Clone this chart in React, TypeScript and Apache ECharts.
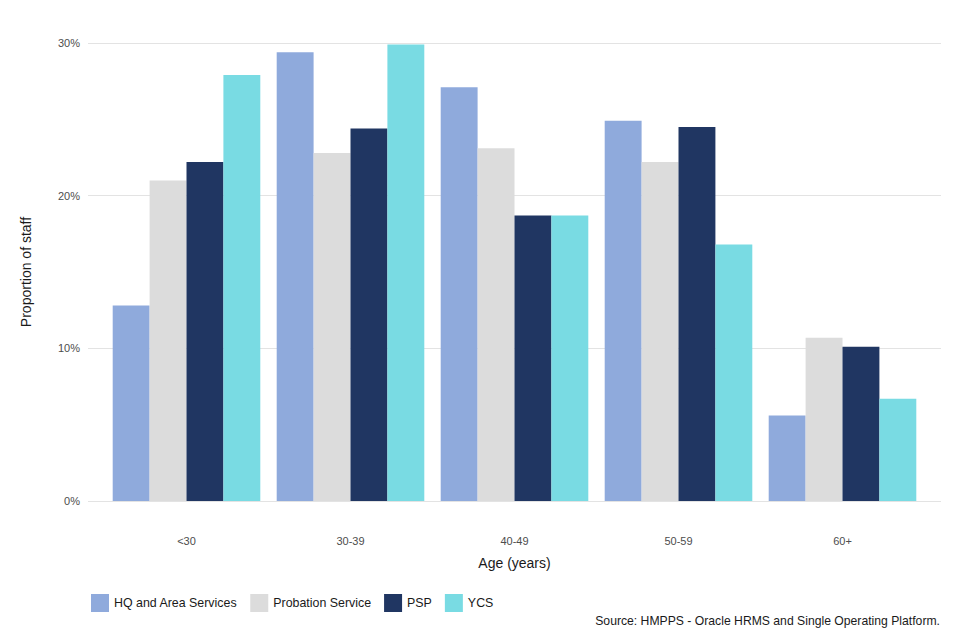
import React, { useEffect, useRef } from "react";
import * as echarts from "echarts";

const categories = ["<30", "30-39", "40-49", "50-59", "60+"];
const seriesNames = ["HQ and Area Services", "Probation Service", "PSP", "YCS"];
const hqValues = [12.8, 29.4, 27.1, 24.9, 5.6];
const probationValues = [21.0, 22.8, 23.1, 22.2, 10.7];
const pspValues = [22.2, 24.4, 18.7, 24.5, 10.1];
const ycsValues = [27.9, 29.9, 18.7, 16.8, 6.7];
const yTicks = [0, 10, 20, 30];
const colors = ["#8faadc", "#dcdcdc", "#203662", "#79dbe3"];

const FONT = "Liberation Sans, Arial, Helvetica, sans-serif";

export default function App() {
  const ref = useRef<HTMLDivElement>(null);
  useEffect(() => {
    if (!ref.current) return;
    const chart = echarts.init(ref.current, undefined, { renderer: "svg" });
    const allValues = [hqValues, probationValues, pspValues, ycsValues];
    chart.setOption({
      animation: false,
      backgroundColor: "#ffffff",
      textStyle: { fontFamily: FONT },
      grid: [
        { left: 88, right: 19, top: 43, bottom: 139 },
        { left: 104.5, width: 820, top: 43, bottom: 139 },
      ],
      xAxis: [
        { gridIndex: 0, type: "value", show: false, min: 0, max: 1 },
        {
          gridIndex: 1,
          type: "category",
          data: categories,
          axisLine: { show: false },
          axisTick: { show: false },
          axisLabel: { margin: 34, color: "#4d4d4d", fontSize: 11, fontFamily: FONT },
          name: "Age (years)",
          nameLocation: "middle",
          nameGap: 55,
          nameTextStyle: { fontSize: 14, color: "#1a1a1a", fontFamily: FONT },
        },
      ],
      yAxis: [
        {
          gridIndex: 0,
          type: "value",
          min: yTicks[0],
          max: yTicks[yTicks.length - 1],
          interval: 10,
          axisLine: { show: false },
          axisTick: { show: false },
          axisLabel: {
            margin: 8,
            color: "#4d4d4d",
            fontSize: 11,
            fontFamily: FONT,
            formatter: (v: number) => `${v}%`,
          },
          splitLine: { lineStyle: { color: "#e3e3e3", width: 1 } },
          name: "Proportion of staff",
          nameLocation: "middle",
          nameGap: 55,
          nameTextStyle: { fontSize: 14, color: "#1a1a1a", fontFamily: FONT },
        },
        {
          gridIndex: 1,
          type: "value",
          min: yTicks[0],
          max: yTicks[yTicks.length - 1],
          interval: 10,
          show: false,
          splitLine: { show: false },
        },
      ],
      legend: {
        data: seriesNames,
        left: 86,
        top: 589,
        icon: "rect",
        itemWidth: 18,
        itemHeight: 18,
        itemGap: 13,
        textStyle: { fontSize: 12.4, color: "#1a1a1a", fontFamily: FONT },
      },
      graphic: [
        {
          type: "text",
          right: 20,
          top: 615,
          style: {
            text: "Source: HMPPS - Oracle HRMS and Single Operating Platform.",
            fontSize: 12.2,
            fill: "#1a1a1a",
            fontFamily: FONT,
          },
        },
      ],
      series: seriesNames.map((name, i) => ({
        name,
        type: "bar",
        xAxisIndex: 1,
        yAxisIndex: 1,
        data: allValues[i],
        itemStyle: { color: colors[i] },
        barGap: "0%",
        barCategoryGap: "10%",
      })),
    });
    return () => chart.dispose();
  }, []);
  return (
    <div
      ref={ref}
      style={{ position: "fixed", left: 0, top: 0, width: 960, height: 640 }}
    />
  );
}
